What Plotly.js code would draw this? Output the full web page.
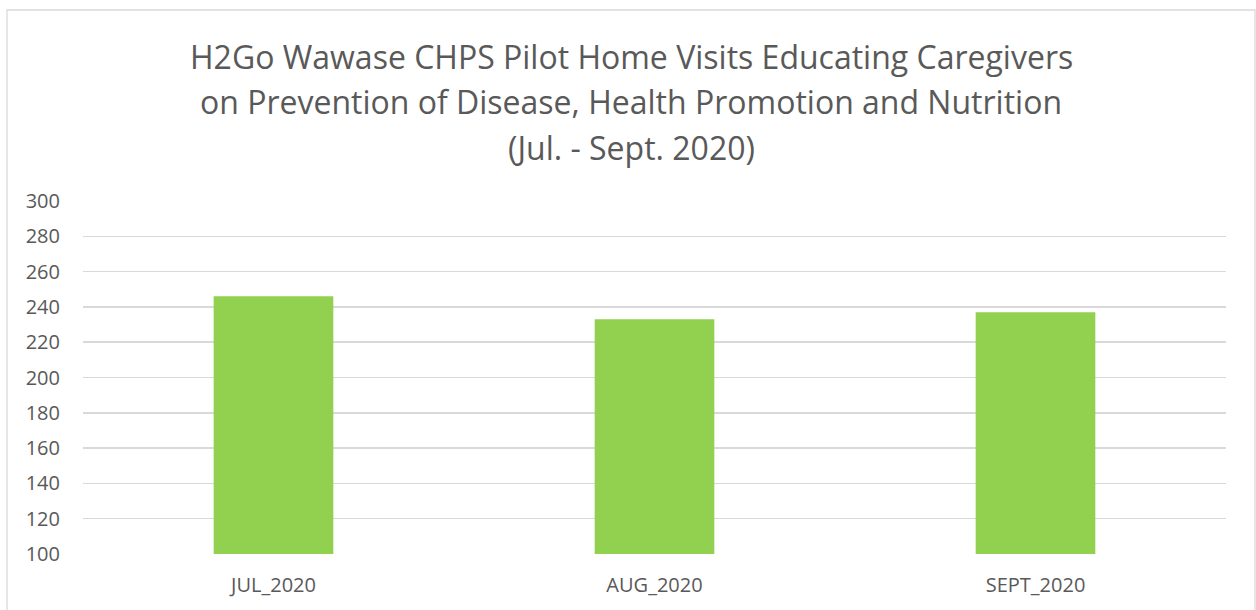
<!DOCTYPE html>
<html>
<head>
<meta charset="utf-8">
<script src="https://cdn.plot.ly/plotly-3.0.1.min.js"></script>
<style>html,body{margin:0;padding:0;background:#fff;}#chart{width:1256px;height:610px;}</style>
</head>
<body>
<div id="chart"></div>
<script>
const categories = ["JUL_2020", "AUG_2020", "SEPT_2020"];
const visits = [246, 233, 237];
const yTicks = [100, 120, 140, 160, 180, 200, 220, 240, 260, 280, 300];
const titleLines = [
  "H2Go Wawase CHPS Pilot Home Visits Educating Caregivers",
  "on Prevention of Disease, Health Promotion and Nutrition",
  "(Jul. - Sept. 2020)"
];

const font = "'Open Sans', 'Noto Sans', sans-serif";
const plotTop = 201, plotBottom = 554;
const lineCenters = [57, 101, 148];
const toPaperY = px => (plotBottom - px) / (plotBottom - plotTop);

const trace = {
  type: "bar",
  x: categories,
  y: visits,
  marker: {color: "#92d050"},
  hoverinfo: "x+y"
};
const layout = {
  width: 1256, height: 610,
  margin: {l: 83, r: 30, t: plotTop, b: 610 - plotBottom},
  paper_bgcolor: "#fff", plot_bgcolor: "#fff",
  bargap: 0.686,
  showlegend: false,
  xaxis: {
    showgrid: false, zeroline: false, showline: false,
    ticks: "", tickfont: {family: font, size: 20, color: "#595959"},
    ticklabelstandoff: 17
  },
  yaxis: {
    range: [100, 300],
    tickvals: yTicks,
    ticktext: yTicks.map(String),
    showgrid: true, gridcolor: "#d9d9d9", gridwidth: 1.5,
    zeroline: false, showline: false, ticks: "",
    tickfont: {family: font, size: 20, color: "#595959"},
    ticklabelstandoff: 22
  },
  annotations: titleLines.map((t, i) => ({
    text: t, xref: "paper", yref: "paper",
    x: (631 - 83) / 1143, y: toPaperY(lineCenters[i]),
    xanchor: "center", yanchor: "middle", showarrow: false,
    font: {family: font, size: 32, color: "#595959"}
  })),
  shapes: [{
    type: "rect", xref: "paper", yref: "paper",
    x0: -0.0665, x1: 1.0254, y0: -0.3, y1: toPaperY(10),
    line: {color: "#d9d9d9", width: 1.3}, fillcolor: "rgba(0,0,0,0)", layer: "below"
  }]
};
Plotly.newPlot("chart", [trace], layout, {displayModeBar: false, staticPlot: true});
</script>
</body>
</html>
